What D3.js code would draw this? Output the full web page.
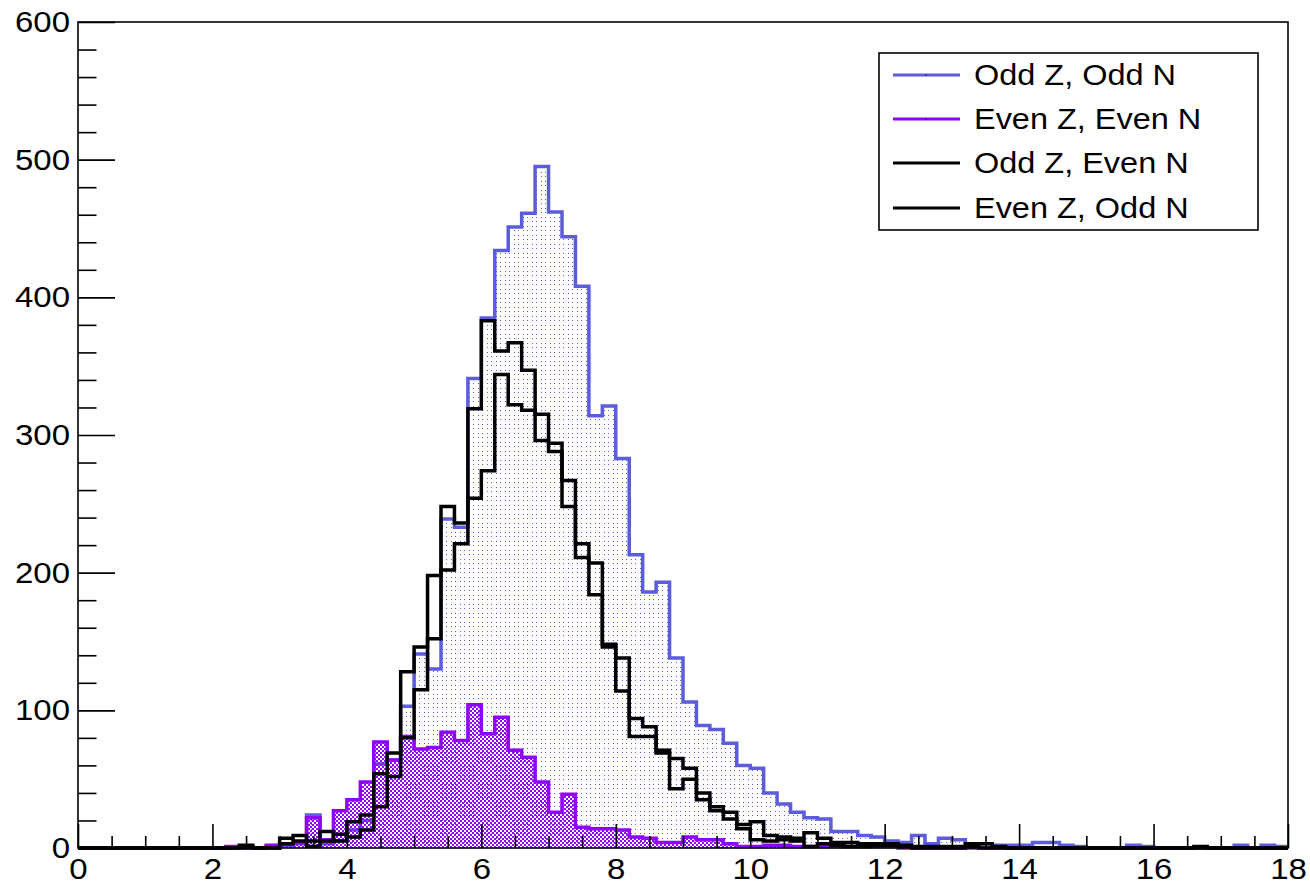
<!DOCTYPE html>
<html><head><meta charset="utf-8">
<script src="https://cdn.jsdelivr.net/npm/d3@7"></script>
<style>
html,body{margin:0;padding:0;background:#fff;}
svg text{font-family:"Liberation Sans",Arial,Helvetica,sans-serif;}
</style>
</head><body>
<svg id="chart" width="1310" height="886"></svg>
<script>
// ---- data (bins of width 0.2 from 0 to 18) ----
const binStart = 0, binWidth = 0.2;
const oddZoddN = [0,0,0,0,0,0,0,0,0,0,0,0,0,0,1,2,3,24,3,5,13,20,61,64,103,141,130,239,233,341,385,434,451,461,495,462,444,408,314,321,283,213,186,193,138,106,89,86,76,60,58,40,32,26,22,21,12,12,9,8,5,4,9,3,7,6,3,3,2,2,2,4,4,2,1,0,0,0,2,1,0,0,0,0,0,0,2,0,2,1];
const evenZevenN = [0,0,0,0,0,0,0,0,0,0,0,1,1,0,2,3,4,22,6,27,35,48,77,64,81,72,73,84,78,104,83,95,71,66,48,26,39,15,14,14,13,8,7,4,4,8,6,6,3,1,1,2,2,1,1,1,1,1,1,1,1,0,0,0,0,0,0,0,0,0,0,0,0,0,0,0,0,0,0,0,0,0,0,0,0,0,0,0,0,0];
const oddZevenN = [0,0,0,0,0,0,0,0,0,0,0,0,2,0,0,7,9,5,12,5,19,24,54,69,128,146,198,248,236,319,383,361,367,347,315,294,267,221,207,148,138,94,88,71,65,58,40,30,26,17,19,9,8,7,11,7,4,4,3,3,3,2,1,1,1,1,3,3,1,0,0,0,0,0,0,0,0,0,0,0,0,0,0,1,0,0,0,0,0,0];
const evenZoddN = [0,0,0,0,0,0,0,0,0,0,0,0,0,0,0,3,5,1,5,10,8,13,30,52,80,115,152,202,221,254,274,344,322,318,296,288,248,211,184,146,114,81,81,69,43,50,35,27,21,14,6,5,6,5,1,3,2,1,1,2,2,1,0,0,0,0,1,0,0,0,0,0,0,0,0,0,0,0,0,0,0,0,0,0,0,0,0,0,0,0];
const xTicks = [0,2,4,6,8,10,12,14,16,18];
const yTicks = [0,100,200,300,400,500,600];
const legendLabels = ["Odd Z, Odd N","Even Z, Even N","Odd Z, Even N","Even Z, Odd N"];

// ---- layout ----
const L = 78, R = 1288, T = 22, B = 848;
const svg = d3.select("#chart");
const x = d3.scaleLinear().domain([0,18]).range([L,R]);
const y = d3.scaleLinear().domain([0,600]).range([B,T]);

const BLUE = "#5c5cdc", PURPLE = "#8f00ff";

// patterns
const defs = svg.append("defs");
const pd = defs.append("pattern").attr("id","dots").attr("patternUnits","userSpaceOnUse")
  .attr("width",9).attr("height",9);
[[1,1],[5,1],[1,5],[5,5]].forEach(p=>
  pd.append("rect").attr("x",p[0]).attr("y",p[1]).attr("width",1).attr("height",1).attr("fill",BLUE));
const pc = defs.append("pattern").attr("id","checker").attr("patternUnits","userSpaceOnUse")
  .attr("width",4).attr("height",4);
pc.append("rect").attr("x",0).attr("y",0).attr("width",2).attr("height",2).attr("fill",PURPLE);
pc.append("rect").attr("x",2).attr("y",2).attr("width",2).attr("height",2).attr("fill",PURPLE);

function steps(vals){
  const pts = [];
  vals.forEach((v,i)=>{
    const x0 = binStart + i*binWidth, x1 = x0 + binWidth;
    pts.push([x0,v]); pts.push([x1,v]);
  });
  return pts;
}
const line = d3.line().x(d=>x(d[0])).y(d=>y(d[1]));
const area = d3.area().x(d=>x(d[0])).y0(y(0)).y1(d=>y(d[1]));

const plot = svg.append("g");
// blue
plot.append("path").attr("d",area(steps(oddZoddN))).attr("fill","url(#dots)");
plot.append("path").attr("d",line(steps(oddZoddN))).attr("fill","none").attr("stroke",BLUE).attr("stroke-width",3.5);
// purple
plot.append("path").attr("d",area(steps(evenZevenN))).attr("fill","url(#checker)");
plot.append("path").attr("d",line(steps(evenZevenN))).attr("fill","none").attr("stroke",PURPLE).attr("stroke-width",3.5);
// black
plot.append("path").attr("d",line(steps(oddZevenN))).attr("fill","none").attr("stroke","#000").attr("stroke-width",3.5);
plot.append("path").attr("d",line(steps(evenZoddN))).attr("fill","none").attr("stroke","#000").attr("stroke-width",3.5);

// frame
svg.append("rect").attr("x",L).attr("y",T).attr("width",R-L).attr("height",B-T)
  .attr("fill","none").attr("stroke","#000").attr("stroke-width",1.6);

// axes
const FS = 30, SX = 1.1;
const yMinor = d3.range(0,601,20).filter(v=>v%100!==0);
const xMinor = d3.range(0,18.01,0.5).filter(v=>Math.abs(v/2-Math.round(v/2))>1e-6);

const yax = svg.append("g").attr("transform",`translate(${L},0)`)
  .call(d3.axisLeft(y).tickValues(yTicks).tickSize(-37).tickPadding(0).tickFormat(d3.format("d")));
svg.append("g").attr("transform",`translate(${L},0)`)
  .call(d3.axisLeft(y).tickValues(yMinor).tickSize(-18.5).tickFormat(""));
const xax = svg.append("g").attr("transform",`translate(0,${B})`)
  .call(d3.axisBottom(x).tickValues(xTicks).tickSize(-24).tickPadding(10).tickFormat(d3.format("d")));
svg.append("g").attr("transform",`translate(0,${B})`)
  .call(d3.axisBottom(x).tickValues(xMinor).tickSize(-12).tickFormat(""));

svg.selectAll(".domain").remove();
svg.selectAll(".tick line").attr("stroke","#000").attr("stroke-width",1.6);
svg.selectAll(".tick text").attr("font-size",FS).attr("fill","#000")
  .attr("font-family","Liberation Sans, Arial, sans-serif");
yax.selectAll(".tick text").attr("x",-8/SX).attr("transform",`scale(${SX},1)`);
xax.selectAll(".tick text").attr("transform",`scale(${SX},1)`);

// legend
const lg = svg.append("g");
lg.append("rect").attr("x",879).attr("y",53).attr("width",379).attr("height",177)
  .attr("fill","#fff").attr("stroke","#000").attr("stroke-width",1.6);
const lcolors = [BLUE,PURPLE,"#000","#000"];
const ly = [75,119,163,208];
legendLabels.forEach((t,i)=>{
  lg.append("line").attr("x1",893).attr("x2",960).attr("y1",ly[i]).attr("y2",ly[i])
    .attr("stroke",lcolors[i]).attr("stroke-width",3);
  if(i<2) lg.append("rect").attr("x",925.5).attr("y",ly[i]-0.5).attr("width",1.2).attr("height",1.2).attr("fill","#000");
  lg.append("text").attr("transform",`translate(974,${ly[i]}) scale(1.12,1)`)
    .attr("dy","0.35em").attr("font-size",29).attr("fill","#000").text(t);
});
</script>
</body></html>
